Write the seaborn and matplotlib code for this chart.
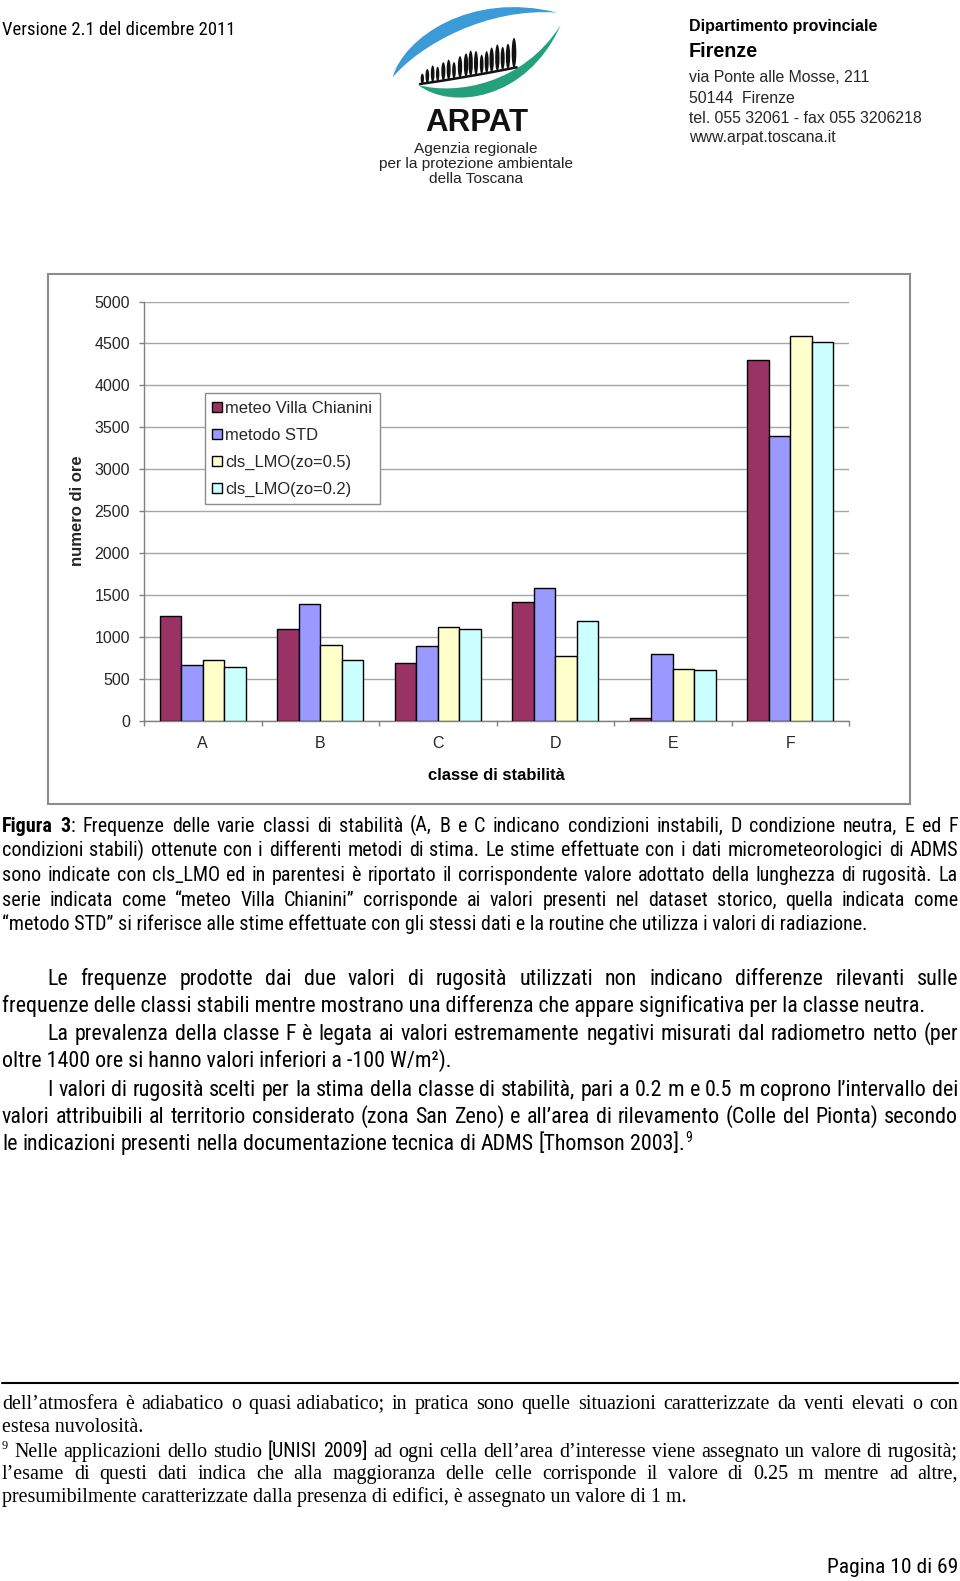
import matplotlib
matplotlib.use("Agg")
import numpy as np
import pandas as pd
import matplotlib.pyplot as plt
import seaborn as sns
from matplotlib import font_manager
from matplotlib.patches import Rectangle, PathPatch, Ellipse
from matplotlib.path import Path

# ---------------- data ----------------
categories = ["A", "B", "C", "D", "E", "F"]
series_names = ["meteo Villa Chianini", "metodo STD", "cls_LMO(zo=0.5)", "cls_LMO(zo=0.2)"]
meteo_villa_chianini = [1250, 1100, 690, 1420, 30, 4300]
metodo_std = [665, 1400, 895, 1585, 795, 3400]
cls_lmo_zo05 = [730, 910, 1125, 775, 620, 4590]
cls_lmo_zo02 = [640, 730, 1100, 1190, 605, 4515]
y_ticks = [0, 500, 1000, 1500, 2000, 2500, 3000, 3500, 4000, 4500, 5000]
series_colors = ["#993366", "#9999FF", "#FFFFCC", "#CCFFFF"]
x_label = "classe di stabilità"
y_label = "numero di ore"

# ---------------- figure / fonts ----------------
sns.set_theme(style="white")
installed = {f.name for f in font_manager.fontManager.ttflist}


def pick(*names):
    for n in names:
        if n in installed:
            return n
    return None


SANS_NAME = pick("Liberation Sans", "Arial") or "DejaVu Sans"
SERIF_NAME = pick("Liberation Serif", "Times New Roman") or "DejaVu Serif"
NARROW_NAME = pick("Liberation Sans Narrow", "Arial Narrow", "Roboto Condensed", "PT Sans Narrow",
                   "Archivo Narrow") or SANS_NAME
plt.rcParams["font.family"] = SANS_NAME

# every (face, size) gets its own font object (distinct fallback chain) so that
# one shared face object is never switched between sizes
POOL = [n for n in ["DejaVu Sans", "DejaVu Serif", "DejaVu Sans Mono", "Liberation Mono", "Noto Sans",
                    "Lato", "Inter", "Open Sans", "Roboto", "Noto Serif"] if n in installed]
_chains, _count = {}, {}


def chain(name, size, weight):
    key = (name, weight, round(size, 3))
    if key not in _chains:
        k2 = (name, weight)
        i = _count.get(k2, 0)
        _count[k2] = i + 1
        fillers = [p for p in POOL if p != name]
        _chains[key] = [name] + ([fillers[(i - 1) % len(fillers)]] if i > 0 else [])
    return _chains[key]


def fkw(name, size, weight="normal"):
    return dict(family=chain(name, size, weight), fontsize=size, fontweight=weight)


W, H = 960, 1581
PX = 100 / 72.0
fig = plt.figure(figsize=(W / 100, H / 100), dpi=100)
fig.patch.set_facecolor("white")
pax = fig.add_axes([0, 0, 1, 1])
pax.set_xlim(0, W)
pax.set_ylim(H, 0)
pax.axis("off")
renderer = fig.canvas.get_renderer()


def text_width(s, name, size, weight="normal"):
    t = pax.text(0, 0, s, **fkw(name, size, weight))
    w = t.get_window_extent(renderer).width
    t.remove()
    return w


def parse_line(line):
    words, cur = [], []
    state = {"buf": "", "bold": False, "sup": False, "alt": False}

    def flush():
        if state["buf"]:
            cur.append((state["buf"], state["bold"], state["sup"], state["alt"]))
            state["buf"] = ""

    for ch in line:
        if ch in "*^~":
            flush()
            key = {"*": "bold", "^": "sup", "~": "alt"}[ch]
            state[key] = not state[key]
        elif ch == " ":
            flush()
            if cur:
                words.append(list(cur))
                cur.clear()
        elif ch == "|":
            state["buf"] += " "
        else:
            state["buf"] += ch
    flush()
    if cur:
        words.append(list(cur))
    return words


def seg_font(size, name, alt_name, bold, sup, alt):
    nm = alt_name if (alt and alt_name) else name
    sz = round(size * 0.62, 2) if sup else size
    return nm, sz, ("bold" if bold else "normal")


def space_w(size, name):
    return text_width("n n", name, size) - text_width("nn", name, size)


def measure(line, size, name, alt_name=None):
    words = parse_line(line)
    ws = [[text_width(s[0], *seg_font(size, name, alt_name, s[1], s[2], s[3])) for s in w]
          for w in words]
    return words, ws


def fit(line, name, target, alt_name=None):
    words, ws = measure(line, 20.0, name, alt_name)
    nat = sum(sum(w) for w in ws) + (len(words) - 1) * space_w(20.0, name)
    return round(20.0 * target / nat, 2)


def draw_line(line, x0, yb, size, name, x1=None, alt_name=None, color="black"):
    words, ws = measure(line, size, name, alt_name)
    plain = all(not (s[1] or s[2] or s[3]) for w in words for s in w)
    if x1 is None and plain:
        txt = " ".join("".join(s[0] for s in w) for w in words)
        pax.text(x0, yb, txt, ha="left", va="baseline", color=color, **fkw(name, size))
        return
    total = sum(sum(w) for w in ws)
    if x1 is not None and len(words) > 1:
        gap = (x1 - x0 - total) / (len(words) - 1)
    else:
        gap = space_w(size, name)
    x = x0
    for w, segw in zip(words, ws):
        for s, sw in zip(w, segw):
            y = yb - (size * 0.36 * PX if s[2] else 0)
            pax.text(x, y, s[0], ha="left", va="baseline", color=color,
                     **fkw(*seg_font(size, name, alt_name, s[1], s[2], s[3])))
            x += sw
        x += gap


def fitted(s, target, name, weight="normal"):
    return round(20.0 * target / text_width(s, name, 20.0, weight), 2)


def single(s, x, yb, target, name, weight="normal", ha="left", color="black"):
    size = fitted(s, target, name, weight)
    pax.text(x, yb, s, ha=ha, va="baseline", color=color, **fkw(name, size, weight))
    return size


# ---------------- header ----------------
single("Versione 2.1 del dicembre 2011", 2, 35, 232, NARROW_NAME)
single("Dipartimento provinciale", 689, 30.7, 187, SANS_NAME, "bold")
single("Firenze", 689, 56.7, 69, SANS_NAME, "bold")
hs = fitted("tel. 055 32061 - fax 055 3206218", 234, SANS_NAME)
for s, yb in [("via Ponte alle Mosse, 211", 81.7), ("50144  Firenze", 102.7),
              ("tel. 055 32061 - fax 055 3206218", 123.3), ("www.arpat.toscana.it", 141.7)]:
    pax.text(689, yb, s, ha="left", va="baseline", **fkw(SANS_NAME, hs))

# ---------------- logo ----------------
def L(px, py):
    return (370 + px / 3.0, py / 3.0)


C4 = Path.CURVE4
codes = [Path.MOVETO, C4, C4, C4, C4, C4, C4, Path.CLOSEPOLY]
blue = [(68, 232), (100, 115), (300, -28), (562, 38), (350, 22), (150, 135), (68, 232), (68, 232)]
pax.add_patch(PathPatch(Path([L(*p) for p in blue], codes), facecolor="#3b9ad8", edgecolor="none"))
green = [(145, 255), (240, 330), (470, 305), (572, 75), (460, 252), (260, 286), (145, 255), (145, 255)]
pax.add_patch(PathPatch(Path([L(*p) for p in green], codes), facecolor="#25a07c", edgecolor="none"))
tg = np.linspace(0, 1, 40)
gx = (1 - tg) ** 2 * 150 + 2 * (1 - tg) * tg * 290 + tg ** 2 * 440
gy = (1 - tg) ** 2 * 252 + 2 * (1 - tg) * tg * 232 + tg ** 2 * 202
pax.plot([L(a, b)[0] for a, b in zip(gx, gy)], [L(a, b)[1] for a, b in zip(gx, gy)],
         color="#111111", lw=1.8, solid_capstyle="round")
trees = [(157, 30, 10), (172, 42, 11), (188, 50, 11), (203, 44, 10), (220, 55, 12), (236, 60, 12),
         (252, 50, 11), (270, 65, 13), (288, 70, 13), (302, 76, 13), (318, 72, 12), (335, 58, 11),
         (350, 66, 12), (365, 74, 13), (382, 80, 13), (398, 70, 12), (414, 76, 13), (432, 90, 14)]
for tx, th, tw in trees:
    ty = np.interp(tx, gx, gy)
    cx, cy = L(tx, ty - th / 2.0)
    pax.add_patch(Ellipse((cx, cy), tw / 3.0, th / 3.0, facecolor="#111111", edgecolor="none"))
pax.text(476.5, 131, "ARPAT", ha="center", va="baseline", color="#111111", **fkw(SANS_NAME, 22.5, "bold"))
ls = fitted("per la protezione ambientale", 194, SANS_NAME)
for s, yb in [("Agenzia regionale", 153), ("per la protezione ambientale", 168), ("della Toscana", 183)]:
    pax.text(476, yb, s, ha="center", va="baseline", color="#222222", **fkw(SANS_NAME, ls))

# ---------------- chart frame ----------------
pax.add_patch(Rectangle((48.3, 274.3), 910 - 48.3, 804 - 274.3, facecolor="none",
                        edgecolor="#8c8c8c", lw=1.5))

# ---------------- chart ----------------
df = pd.DataFrame({
    "classe": categories * 4,
    "serie": np.repeat(series_names, len(categories)),
    "ore": meteo_villa_chianini + metodo_std + cls_lmo_zo05 + cls_lmo_zo02,
})
ax_l, ax_r, ax_t, ax_b = 144, 849, 301.5, 721
ax = fig.add_axes([ax_l / W, 1 - ax_b / H, (ax_r - ax_l) / W, (ax_b - ax_t) / H])
ax.patch.set_alpha(0)
sns.barplot(data=df, x="classe", y="ore", hue="serie", order=categories, hue_order=series_names,
            palette=series_colors, saturation=1, width=0.734, gap=0, edgecolor="black",
            linewidth=1.0, errorbar=None, legend=False, ax=ax, zorder=3)
ax.set_xlim(-0.5, len(categories) - 0.5)
ax.set_ylim(0, 5000)
ax.set_xlabel("")
ax.set_ylabel("")
tick_kw = fkw(SANS_NAME, 11.5)
ax.set_yticks(y_ticks)
ax.set_yticklabels([str(v) for v in y_ticks], **tick_kw)
ax.set_xticks(np.arange(-0.5, len(categories), 1.0))
ax.set_xticklabels([])
ax.set_xticks(np.arange(len(categories)), minor=True)
ax.set_xticklabels(categories, minor=True, **tick_kw)
ax.tick_params(axis="y", which="major", length=3.6, width=1, color="#808080", pad=6.5, left=True)
ax.tick_params(axis="x", which="major", length=3.6, width=1, color="#808080", bottom=True, direction="out")
ax.tick_params(axis="x", which="minor", length=0, pad=11)
ax.yaxis.grid(True, color="#a6a6a6", lw=1)
ax.xaxis.grid(False)
ax.set_axisbelow(True)
for sp in ["top", "right"]:
    ax.spines[sp].set_visible(False)
for sp in ["left", "bottom"]:
    ax.spines[sp].set_color("#808080")
    ax.spines[sp].set_linewidth(1)

single(x_label, 496, 779.5, 137, SANS_NAME, "bold", ha="center")
ysz = fitted(y_label, 111, SANS_NAME, "bold")
pax.text(77.6, 511, y_label, rotation=90, ha="center", va="center", **fkw(SANS_NAME, ysz, "bold"))

handles = [Rectangle((0, 0), 1, 1, facecolor=c, edgecolor="black", lw=1) for c in series_colors]
lsz = fitted(series_names[0], 146, SANS_NAME)
leg = fig.legend(handles, series_names, loc="upper left", bbox_to_anchor=(204.7 / W, 1 - 393.3 / H),
                 bbox_transform=fig.transFigure, frameon=True, fancybox=False, framealpha=1,
                 edgecolor="#8c8c8c", borderaxespad=0,
                 prop={"family": chain(SANS_NAME, lsz, "normal"), "size": lsz},
                 handlelength=0.6, handleheight=0.6, handletextpad=0.2, labelspacing=0.72,
                 borderpad=0.45)
leg.get_frame().set_linewidth(1)

# ---------------- caption ----------------
cap_lines = [
    "*Figura* *3*: Frequenze delle varie classi di stabilità (A, B e C indicano condizioni instabili, D condizione neutra, E ed F",
    "condizioni stabili) ottenute con i differenti metodi di stima. Le stime effettuate con i dati micrometeorologici di ADMS",
    "sono indicate con cls_LMO ed in parentesi è riportato il corrispondente valore adottato della lunghezza di rugosità. La",
    "serie indicata come “meteo Villa Chianini” corrisponde ai valori presenti nel dataset storico, quella indicata come",
    "“metodo STD” si riferisce alle stime effettuate con gli stessi dati e la routine che utilizza i valori di radiazione.",
]
cap_size = fit(cap_lines[-1], NARROW_NAME, 863)
cap_base = [831.5, 856.2, 880.9, 905.6, 930.3]
for i, (ln, yb) in enumerate(zip(cap_lines, cap_base)):
    draw_line(ln, 2, yb, cap_size, NARROW_NAME, x1=None if i == len(cap_lines) - 1 else 958)

# ---------------- body ----------------
body = [
    ("Le frequenze prodotte dai due valori di rugosità utilizzati non indicano differenze rilevanti sulle", 47.4, True),
    ("frequenze delle classi stabili mentre mostrano una differenza che appare significativa per la classe neutra.", 2, False),
    ("La prevalenza della classe F è legata ai valori estremamente negativi misurati dal radiometro netto (per", 47.4, True),
    ("oltre 1400 ore si hanno valori inferiori a -100 W/m²).", 2, False),
    ("I valori di rugosità scelti per la stima della classe di stabilità, pari a 0.2 m e 0.5 m coprono l’intervallo dei", 47.4, True),
    ("valori attribuibili al territorio considerato (zona San Zeno) e all’area di rilevamento (Colle del Pionta) secondo", 2, True),
    ("le indicazioni presenti nella documentazione tecnica di ADMS [Thomson 2003].^9^", 2, False),
]
body_size = round(float(np.median([fit(body[1][0], NARROW_NAME, 926), fit(body[3][0], NARROW_NAME, 449),
                                   fit(body[6][0], NARROW_NAME, 701)])), 2)
body_base = [984.7, 1011.9, 1040.1, 1067.3, 1095.6, 1122.8, 1150.0]
for (ln, x0, just), yb in zip(body, body_base):
    draw_line(ln, x0, yb, body_size, NARROW_NAME, x1=958 if just else None)

# ---------------- footnotes ----------------
pax.plot([2, 958], [1382.5, 1382.5], color="black", lw=1.5)
foot = [
    ("dell’atmosfera è adiabatico o quasi|adiabatico; in pratica sono quelle situazioni caratterizzate da venti elevati o con", True),
    ("estesa nuvolosità.", False),
    ("^9^ Nelle applicazioni dello studio ~[UNISI 2009]~ ad ogni cella dell’area d’interesse viene assegnato un valore di rugosità;", True),
    ("l’esame di questi dati indica che alla maggioranza delle celle corrisponde il valore di 0.25 m mentre ad altre,", True),
    ("presumibilmente caratterizzate dalla presenza di edifici, è assegnato un valore di 1 m.", False),
]
foot_size = fit(foot[-1][0], SERIF_NAME, 687)
foot_base = [1409.2, 1432.4, 1456.6, 1478.8, 1502.0]
for (ln, just), yb in zip(foot, foot_base):
    draw_line(ln, 2, yb, foot_size, SERIF_NAME, x1=958 if just else None, alt_name=NARROW_NAME)

# ---------------- footer ----------------
single("Pagina 10 di 69", 958, 1573, 131, NARROW_NAME, ha="right")

fig.savefig("out.png", dpi=100, facecolor="white")
